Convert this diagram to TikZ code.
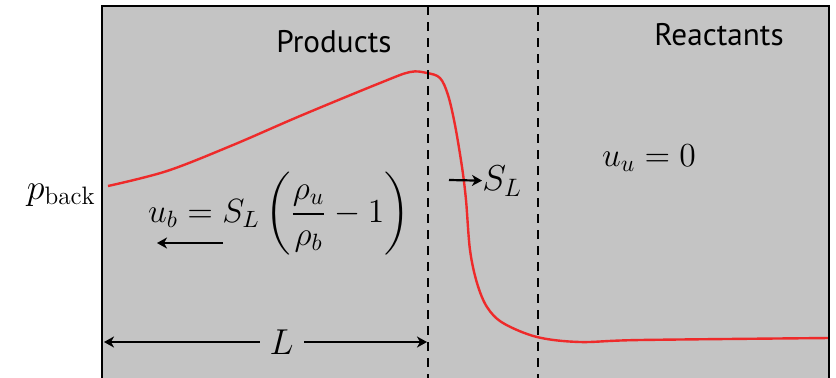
\RequirePackage{fix-cm}
\documentclass[tikz,border=0pt]{standalone}
\usepackage{amsmath}
\usepackage{fontspec}
\newfontfamily\zonefont{PT Sans}
\usetikzlibrary{arrows.meta, positioning}
\definecolor{chambergray}{HTML}{C4C4C4}
\definecolor{flamered}{HTML}{EE2A2A}

\begin{document}
\begin{tikzpicture}[
    x=0.5pt, y=-0.5pt,
    every node/.style={font=\fontsize{16.8}{20}\selectfont, inner sep=0pt},
    big/.style={font=\fontsize{18}{21}\selectfont},
    zone/.style={font=\zonefont\fontsize{15.6}{18}\selectfont},
    arr/.style={-{Stealth[length=5pt, width=5.5pt, inset=1.5pt]}, line width=1.1pt},
    dim/.style={{Stealth[length=5pt, width=5.5pt, inset=1.5pt]}-{Stealth[length=5pt, width=5.5pt, inset=1.5pt]}, line width=1.1pt},
    front/.style={line width=1.2pt, dash pattern=on 4.5pt off 3.5pt},
    profile/.style={flamered, line width=1.2pt}
]
    \useasboundingbox (0,0) rectangle (836,377);
    \fill[chambergray] (102,6) rectangle (829,380);
    \draw[profile] plot[smooth, tension=0.55] coordinates {
        (108,186) (167,171) (233,145) (300,116) (380,83) (410,72)
        (427,73) (440,78) (448,95) (455,125) (462,167) (466,200) (470,250)
        (477,283) (487,307) (503,323) (537,337) (580,342) (640,340) (829,338)};
    \draw[line width=1.2pt] (102,380) -- (102,6) -- (829,6) -- (829,380);
    \coordinate (front1) at (428,6);
    \coordinate (front1b) at (428,380);
    \coordinate (front2) at (538,6);
    \coordinate (front2b) at (538,380);
    \draw[front] (front1) -- (front1b);
    \draw[front] (front2) -- (front2b);
    \node[zone] (products) at (334,42) {Products};
    \node[zone] (reactants) at (719,35) {Reactants};
    \node[big, anchor=east] (pback) at (96,195) {$p_{\mathrm{back}}$};
    \node (uu) at (649,158) {$u_u = 0$};
    \node (ub) at (279,214) {$\displaystyle u_b = S_L\,\biggl(\frac{\rho_u}{\rho_b}-1\biggr)$};
    \coordinate (ubtail) at (223,243);
    \coordinate (ubhead) at (157,243);
    \draw[arr] (ubtail) -- (ubhead);
    \coordinate (slstart) at (449,180);
    \node[big, anchor=west] (sl) at (482,181) {$S_L$};
    \draw[arr] (slstart) -- (sl);
    \coordinate (Lstart) at (104,342);
    \coordinate (Lend) at (427,342);
    \draw[dim] (Lstart) -- node[big, pos=0.55, fill=chambergray, inner xsep=5pt, inner ysep=2pt] (Llabel) {$L$} (Lend);
\end{tikzpicture}
\end{document}
